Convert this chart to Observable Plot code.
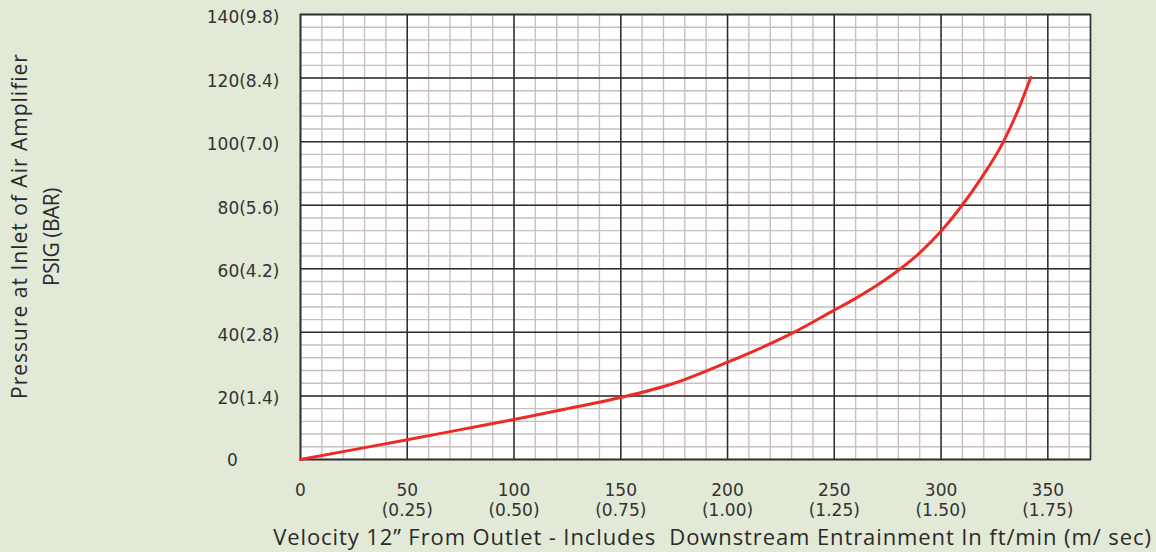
<!DOCTYPE html>
<html><head><meta charset="utf-8">
<script src="https://cdn.jsdelivr.net/npm/d3@7"></script>
<script src="https://cdn.jsdelivr.net/npm/@observablehq/plot@0.6"></script>
<style>
html,body{margin:0;padding:0;background:#e2e9d6;}
#chart{width:1156px;height:552px;}
</style></head><body><div id="chart"></div>
<script>
// Curve: velocity (ft/min) vs inlet pressure (PSIG)
const velocity = [0, 25, 50, 75, 100, 125, 150, 175, 200, 215, 231, 250, 259, 270, 281, 290, 300, 309, 319, 329, 336, 342];
const pressure = [0, 3.1, 6.2, 9.4, 12.6, 16.0, 19.5, 24.0, 30.6, 34.9, 40.0, 47.0, 50.3, 54.8, 60.0, 65.0, 71.8, 79.2, 88.7, 99.7, 109.8, 120.2];

const xTicks = [0, 50, 100, 150, 200, 250, 300, 350];
const xTickLabels = ["0", "50\n(0.25)", "100\n(0.50)", "150\n(0.75)", "200\n(1.00)", "250\n(1.25)", "300\n(1.50)", "350\n(1.75)"];
const yTicks = [0, 20, 40, 60, 80, 100, 120, 140];
const yTickLabels = ["0", "20(1.4)", "40(2.8)", "60(4.2)", "80(5.6)", "100(7.0)", "120(8.4)", "140(9.8)"];
const xMinorTicks = d3.range(0, 371, 10);
const yMinorTicks = d3.range(0, 141, 4);
const xTitle = "Velocity 12\u201d From Outlet - Includes  Downstream Entrainment In ft/min (m/ sec)";
const yTitleLines = ["Pressure at Inlet of Air Amplifier", "PSIG (BAR)"];

const curve = velocity.map((v, i) => ({v, p: pressure[i]}));
const tickFont = "DejaVu Sans";
const titleFont = "Open Sans";

const chart = Plot.plot({
  width: 1156, height: 552,
  marginLeft: 300, marginRight: 66, marginTop: 14, marginBottom: 93,
  style: {background: "#e2e9d6", overflow: "visible"},
  x: {domain: [0, 370], axis: null},
  y: {domain: [0, 140], axis: null},
  marks: [
    Plot.frame({fill: "white", stroke: null}),
    Plot.gridX(xMinorTicks, {stroke: "#c9bfbf", strokeOpacity: 1, strokeWidth: 1.4}),
    Plot.gridY(yMinorTicks, {stroke: "#c9bfbf", strokeOpacity: 1, strokeWidth: 1.4}),
    Plot.gridX(xTicks, {stroke: "#2e2e2e", strokeOpacity: 1, strokeWidth: 1.5}),
    Plot.gridY(yTicks, {stroke: "#2e2e2e", strokeOpacity: 1, strokeWidth: 1.5}),
    Plot.frame({stroke: "#2e2e2e", strokeWidth: 1.6}),
    Plot.line(curve, {x: "v", y: "p", stroke: "#ee2a24", strokeWidth: 3, curve: "monotone-x"}),
    // x tick labels
    Plot.text(xTickLabels, {x: (d, i) => xTicks[i], y: d => 0, text: d => d, lineAnchor: "top", dy: 22,
      lineHeight: 1.2, fontFamily: tickFont, fontSize: 17, fill: "#333"}),
    // y tick labels
    Plot.text(yTickLabels, {filter: (d, i) => i > 0, x: d => 0, y: (d, i) => yTicks[i], text: d => d,
      textAnchor: "end", dx: -21, dy: 3, fontFamily: tickFont, fontSize: 17, fill: "#333"}),
    Plot.text(yTickLabels, {filter: (d, i) => i === 0, x: d => 0, y: (d, i) => yTicks[i], text: d => d,
      textAnchor: "middle", dx: -68, dy: 1, fontFamily: tickFont, fontSize: 17, fill: "#333"}),
    // x title
    Plot.text([xTitle], {frameAnchor: "bottom", text: d => d, dx: 17, dy: 85, lineAnchor: "bottom",
      textAnchor: "middle", fontFamily: titleFont, fontSize: 22, fill: "#2a2a2a"}),
    // y title (two lines)
    Plot.text([yTitleLines[0]], {frameAnchor: "left", text: d => d, dx: -280, dy: -11, rotate: -90,
      textAnchor: "middle", fontFamily: titleFont, fontSize: 21, fill: "#2a2a2a"}),
    Plot.text([yTitleLines[1]], {frameAnchor: "left", text: d => d, dx: -248, dy: 0, rotate: -90,
      textAnchor: "middle", fontFamily: titleFont, fontSize: 21, fill: "#2a2a2a"})
  ]
});
const svg = d3.select(chart);
svg.selectAll("text").filter(function() { return this.textContent === xTitle; }).style("letter-spacing", "0.9px");
svg.selectAll("text").filter(function() { return this.textContent === yTitleLines[0]; }).style("letter-spacing", "1px");
svg.selectAll("text").filter(function() { return this.textContent === yTitleLines[1]; }).style("letter-spacing", "-0.5px");
document.getElementById("chart").append(chart);
</script>
</body></html>
